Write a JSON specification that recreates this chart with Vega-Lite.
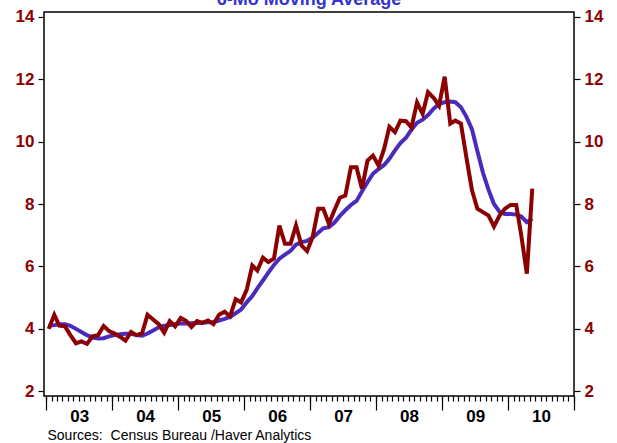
{
  "$schema": "https://vega.github.io/schema/vega-lite/v6.json",
  "width": 530,
  "height": 384,
  "autosize": {"type": "none"},
  "padding": {"left": 44, "top": 12, "right": 43, "bottom": 47},
  "background": "white",
  "config": {
    "view": {"stroke": "black", "strokeWidth": 1.5},
    "axis": {"grid": false, "domain": false, "tickColor": "black", "tickWidth": 1.2, "labelFont": "Liberation Sans", "titleFont": "Liberation Sans"}
  },
  "title": {
    "text": "6-Mo Moving Average",
    "color": "#3434CC",
    "font": "Liberation Sans",
    "fontSize": 18,
    "fontWeight": "bold",
    "anchor": "middle",
    "baseline": "alphabetic",
    "offset": 0,
    "dy": 15
  },
  "datasets": {
    "series": [
      {"date": "2003-01-15", "actual": 4.0, "ma6": 4.1},
      {"date": "2003-02-15", "actual": 4.45, "ma6": 4.12},
      {"date": "2003-03-15", "actual": 4.1, "ma6": 4.15},
      {"date": "2003-04-15", "actual": 4.08, "ma6": 4.15},
      {"date": "2003-05-15", "actual": 3.8, "ma6": 4.1},
      {"date": "2003-06-15", "actual": 3.54, "ma6": 4.0},
      {"date": "2003-07-15", "actual": 3.6, "ma6": 3.9},
      {"date": "2003-08-15", "actual": 3.52, "ma6": 3.8},
      {"date": "2003-09-15", "actual": 3.76, "ma6": 3.72},
      {"date": "2003-10-15", "actual": 3.8, "ma6": 3.69},
      {"date": "2003-11-15", "actual": 4.09, "ma6": 3.7},
      {"date": "2003-12-15", "actual": 3.93, "ma6": 3.76},
      {"date": "2004-01-15", "actual": 3.85, "ma6": 3.8},
      {"date": "2004-02-15", "actual": 3.74, "ma6": 3.83},
      {"date": "2004-03-15", "actual": 3.62, "ma6": 3.84},
      {"date": "2004-04-15", "actual": 3.9, "ma6": 3.84},
      {"date": "2004-05-15", "actual": 3.8, "ma6": 3.8},
      {"date": "2004-06-15", "actual": 3.86, "ma6": 3.78},
      {"date": "2004-07-15", "actual": 4.45, "ma6": 3.85},
      {"date": "2004-08-15", "actual": 4.3, "ma6": 3.95},
      {"date": "2004-09-15", "actual": 4.15, "ma6": 4.05},
      {"date": "2004-10-15", "actual": 3.88, "ma6": 4.1},
      {"date": "2004-11-15", "actual": 4.25, "ma6": 4.12},
      {"date": "2004-12-15", "actual": 4.08, "ma6": 4.15},
      {"date": "2005-01-15", "actual": 4.35, "ma6": 4.17},
      {"date": "2005-02-15", "actual": 4.25, "ma6": 4.17},
      {"date": "2005-03-15", "actual": 4.06, "ma6": 4.18},
      {"date": "2005-04-15", "actual": 4.25, "ma6": 4.19},
      {"date": "2005-05-15", "actual": 4.19, "ma6": 4.2},
      {"date": "2005-06-15", "actual": 4.27, "ma6": 4.21},
      {"date": "2005-07-15", "actual": 4.15, "ma6": 4.22},
      {"date": "2005-08-15", "actual": 4.45, "ma6": 4.27},
      {"date": "2005-09-15", "actual": 4.55, "ma6": 4.32},
      {"date": "2005-10-15", "actual": 4.4, "ma6": 4.38},
      {"date": "2005-11-15", "actual": 4.95, "ma6": 4.5},
      {"date": "2005-12-15", "actual": 4.85, "ma6": 4.62},
      {"date": "2006-01-15", "actual": 5.25, "ma6": 4.85},
      {"date": "2006-02-15", "actual": 6.03, "ma6": 5.05},
      {"date": "2006-03-15", "actual": 5.87, "ma6": 5.3},
      {"date": "2006-04-15", "actual": 6.28, "ma6": 5.55},
      {"date": "2006-05-15", "actual": 6.14, "ma6": 5.8},
      {"date": "2006-06-15", "actual": 6.25, "ma6": 6.05},
      {"date": "2006-07-15", "actual": 7.31, "ma6": 6.25},
      {"date": "2006-08-15", "actual": 6.73, "ma6": 6.38},
      {"date": "2006-09-15", "actual": 6.73, "ma6": 6.5},
      {"date": "2006-10-15", "actual": 7.31, "ma6": 6.7},
      {"date": "2006-11-15", "actual": 6.67, "ma6": 6.78},
      {"date": "2006-12-15", "actual": 6.49, "ma6": 6.82},
      {"date": "2007-01-15", "actual": 6.94, "ma6": 6.92},
      {"date": "2007-02-15", "actual": 7.85, "ma6": 7.08},
      {"date": "2007-03-15", "actual": 7.85, "ma6": 7.22},
      {"date": "2007-04-15", "actual": 7.37, "ma6": 7.26},
      {"date": "2007-05-15", "actual": 7.79, "ma6": 7.4},
      {"date": "2007-06-15", "actual": 8.2, "ma6": 7.62},
      {"date": "2007-07-15", "actual": 8.27, "ma6": 7.8},
      {"date": "2007-08-15", "actual": 9.18, "ma6": 7.97},
      {"date": "2007-09-15", "actual": 9.18, "ma6": 8.1},
      {"date": "2007-10-15", "actual": 8.49, "ma6": 8.4},
      {"date": "2007-11-15", "actual": 9.39, "ma6": 8.7},
      {"date": "2007-12-15", "actual": 9.55, "ma6": 8.97},
      {"date": "2008-01-15", "actual": 9.23, "ma6": 9.12},
      {"date": "2008-02-15", "actual": 9.77, "ma6": 9.25},
      {"date": "2008-03-15", "actual": 10.47, "ma6": 9.45},
      {"date": "2008-04-15", "actual": 10.3, "ma6": 9.72},
      {"date": "2008-05-15", "actual": 10.67, "ma6": 9.95},
      {"date": "2008-06-15", "actual": 10.65, "ma6": 10.12},
      {"date": "2008-07-15", "actual": 10.45, "ma6": 10.38},
      {"date": "2008-08-15", "actual": 11.25, "ma6": 10.6},
      {"date": "2008-09-15", "actual": 10.89, "ma6": 10.7},
      {"date": "2008-10-15", "actual": 11.58, "ma6": 10.85},
      {"date": "2008-11-15", "actual": 11.4, "ma6": 11.05},
      {"date": "2008-12-15", "actual": 11.15, "ma6": 11.2},
      {"date": "2009-01-15", "actual": 12.08, "ma6": 11.26},
      {"date": "2009-02-15", "actual": 10.57, "ma6": 11.28},
      {"date": "2009-03-15", "actual": 10.67, "ma6": 11.26},
      {"date": "2009-04-15", "actual": 10.58, "ma6": 11.1},
      {"date": "2009-05-15", "actual": 9.5, "ma6": 10.8},
      {"date": "2009-06-15", "actual": 8.45, "ma6": 10.4},
      {"date": "2009-07-15", "actual": 7.85, "ma6": 9.7},
      {"date": "2009-08-15", "actual": 7.74, "ma6": 9.0},
      {"date": "2009-09-15", "actual": 7.63, "ma6": 8.45},
      {"date": "2009-10-15", "actual": 7.28, "ma6": 8.0},
      {"date": "2009-11-15", "actual": 7.63, "ma6": 7.75},
      {"date": "2009-12-15", "actual": 7.85, "ma6": 7.68},
      {"date": "2010-01-15", "actual": 7.97, "ma6": 7.68},
      {"date": "2010-02-15", "actual": 7.97, "ma6": 7.66},
      {"date": "2010-03-15", "actual": 7.0, "ma6": 7.6},
      {"date": "2010-04-15", "actual": 5.77, "ma6": 7.42},
      {"date": "2010-05-15", "actual": 8.49, "ma6": 7.53}
    ]
  },
  "data": {"name": "series"},
  "layer": [
    {
      "mark": {"type": "line", "color": "#4A2BBE", "strokeWidth": 4},
      "encoding": {
        "x": {
          "field": "date", "type": "temporal",
          "scale": {"type": "utc", "domain": [{"year": 2002, "month": 12, "date": 20, "utc": true}, {"year": 2011, "month": 1, "date": 1, "utc": true}]},
          "axis": {"orient": "bottom", "tickCount": {"interval": "month"}, "tickSize": 5, "labels": false, "title": null}
        },
        "y": {
          "field": "ma6", "type": "quantitative",
          "scale": {"domain": [1.85, 14.15], "nice": false, "zero": false},
          "axis": {"orient": "right", "values": [2, 4, 6, 8, 10, 12, 14], "tickSize": 6, "labelPadding": 4, "labelColor": "#8E0000", "labelFontSize": 17, "labelFontWeight": "bold", "title": null}
        }
      }
    },
    {
      "mark": {"type": "line", "color": "#8B0000", "strokeWidth": 4},
      "encoding": {
        "x": {
          "field": "date", "type": "temporal",
          "scale": {"type": "utc", "domain": [{"year": 2002, "month": 12, "date": 20, "utc": true}, {"year": 2011, "month": 1, "date": 1, "utc": true}]},
          "axis": {
            "orient": "bottom", "tickCount": {"interval": "year"}, "tickSize": 14,
            "labelOffset": 33, "labelPadding": -2, "labelFlush": false, "labelOverlap": false, "labelBound": false,
            "labelExpr": "utcyear(datum.value) > 2010 ? '' : utcFormat(datum.value, '%y')",
            "labelColor": "black", "labelFontSize": 17, "labelFontWeight": "bold",
            "title": "Sources:\u00a0 Census Bureau /Haver Analytics",
            "titleAnchor": "start", "titleAlign": "left", "titleX": 3, "titleFontSize": 14, "titleFontWeight": "normal", "titleColor": "black", "titlePadding": 4
          }
        },
        "y": {
          "field": "actual", "type": "quantitative",
          "scale": {"domain": [1.85, 14.15], "nice": false, "zero": false},
          "axis": {"orient": "left", "values": [2, 4, 6, 8, 10, 12, 14], "tickSize": 6, "labelPadding": 4, "labelColor": "#8E0000", "labelFontSize": 17, "labelFontWeight": "bold", "title": null}
        }
      }
    }
  ],
  "resolve": {"axis": {"x": "independent", "y": "independent"}}
}
